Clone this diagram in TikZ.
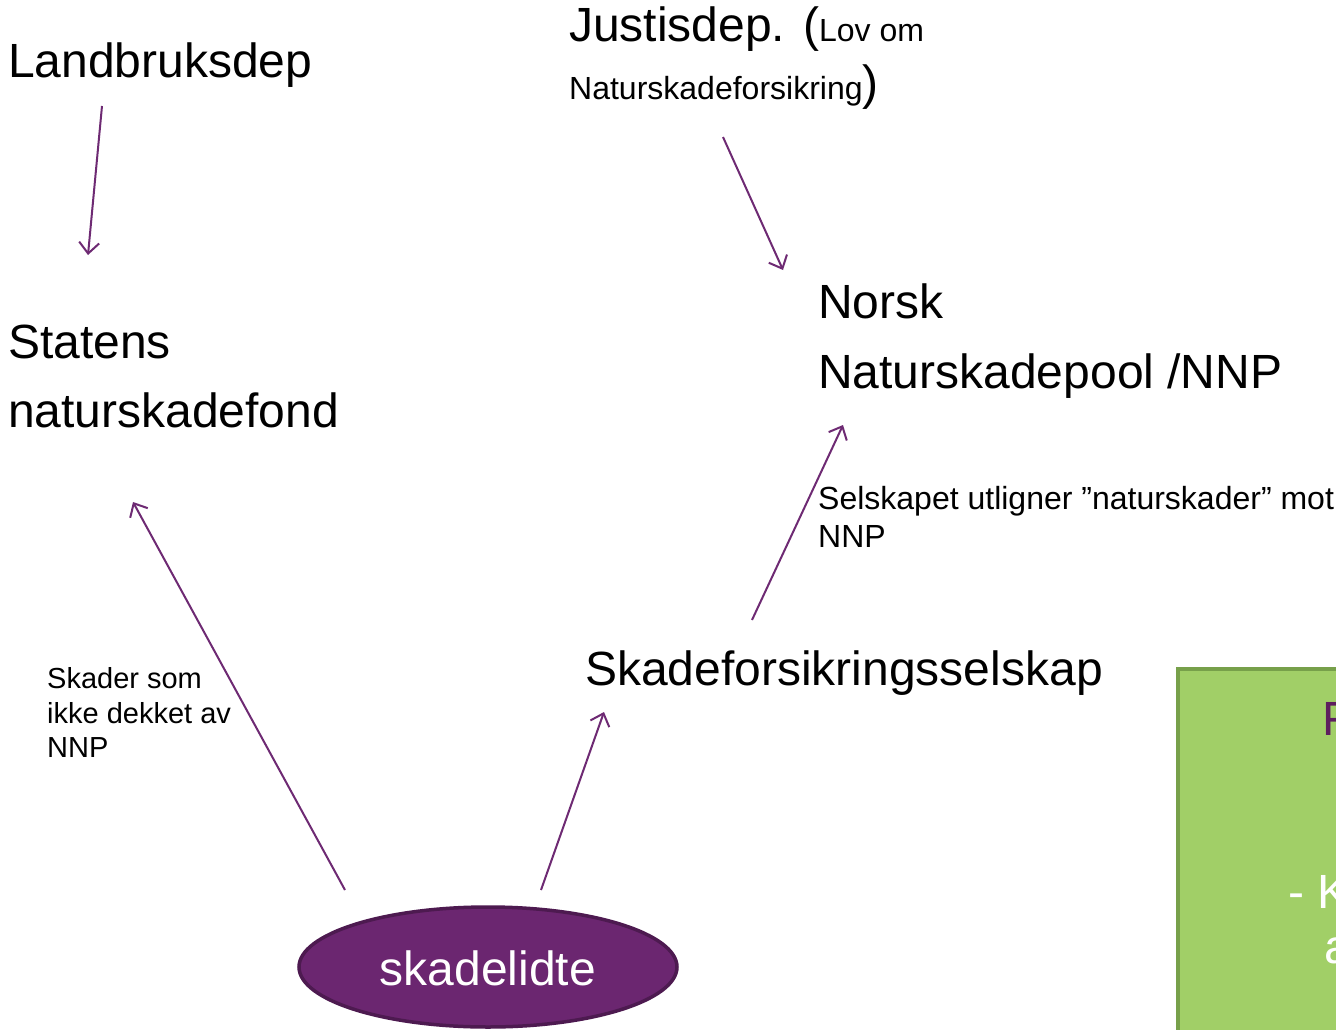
\documentclass[tikz,border=0pt]{standalone}
\usepackage{fontspec}
\setmainfont{Liberation Sans}
\usetikzlibrary{arrows.meta,shapes.geometric}
\definecolor{arrowpurple}{HTML}{6E2A73}
\definecolor{ellfill}{HTML}{6B2670}
\definecolor{elledge}{HTML}{4D1A50}
\definecolor{boxgreen}{HTML}{A1CF67}
\definecolor{boxedge}{HTML}{77A04A}
\definecolor{darkpurple}{HTML}{5E1F5E}
\begin{document}
\begin{tikzpicture}[x=1pt,y=-1pt,
  big/.style={anchor=base west,inner sep=0pt,font=\fontsize{48}{58}\selectfont},
  mid/.style={anchor=base west,inner sep=0pt,font=\fontsize{32}{38}\selectfont},
  small/.style={anchor=base west,inner sep=0pt,font=\fontsize{29}{34}\selectfont},
  link/.style={draw=arrowpurple,line width=2pt,-{Straight Barb[length=11pt,width=20pt,line width=2pt]}}]
\useasboundingbox (0,0) rectangle (1336,1030);
\clip (0,0) rectangle (1336,1030);
\fill[white] (0,0) rectangle (1336,1030);

% green box (clipped at the right and bottom)
\node[draw=boxedge,fill=boxgreen,line width=4pt,minimum width=220pt,minimum height=400pt,anchor=north west,inner sep=0pt] (box) at (1176,667) {};
\node[big,text=darkpurple] (boxf) at (1322,735) {F};
\node[big,text=white] (boxk) at (1288,908) {- K};
\node[big,text=white] (boxa) at (1324,963) {a};

% texts
\node[big] (land) at (8,78) {Landbruksdep};
\node[big] (stat1) at (8,358) {Statens};
\node[big] (stat2) at (8,427) {naturskadefond};
\node[big] (just1) at (569,42) {Justisdep. (\fontsize{32}{38}\selectfont Lov om};
\node[mid] (just2) at (569,100) {Naturskadeforsikring\fontsize{48}{58}\selectfont)};
\node[big] (nnp1) at (818,318) {Norsk};
\node[big] (nnp2) at (818,388) {Naturskadepool /NNP};
\node[mid] (sel1) at (818,509) {Selskapet utligner ”naturskader” mot};
\node[mid] (sel2) at (818,547) {NNP};
\node[big] (skade) at (585,685) {Skadeforsikringsselskap};
\node[small] (ikke1) at (47,688) {Skader som};
\node[small] (ikke2) at (47,723) {ikke dekket av};
\node[small] (ikke3) at (47,757) {NNP};

% ellipse
\node[ellipse,draw=elledge,fill=ellfill,line width=3.5pt,minimum width=378pt,minimum height=120pt,inner sep=0pt] (ell) at (488,967) {};
\node[anchor=base,inner sep=0pt,text=white,font=\fontsize{48}{58}\selectfont] (elltext) at (488,985) {skadelidte};

% connector end points
\coordinate (a1s) at (102,106); \coordinate (a1e) at (88,255);
\coordinate (a2s) at (723,137); \coordinate (a2e) at (783,270);
\coordinate (a3s) at (752,620); \coordinate (a3e) at (843,425);
\coordinate (a4s) at (345,890); \coordinate (a4e) at (133,502);
\coordinate (a5s) at (541,890); \coordinate (a5e) at (604,712);

\draw[link] (a1s) -- (a1e);
\draw[link] (a2s) -- (a2e);
\draw[link] (a3s) -- (a3e);
\draw[link] (a4s) -- (a4e);
\draw[link] (a5s) -- (a5e);
\end{tikzpicture}
\end{document}
